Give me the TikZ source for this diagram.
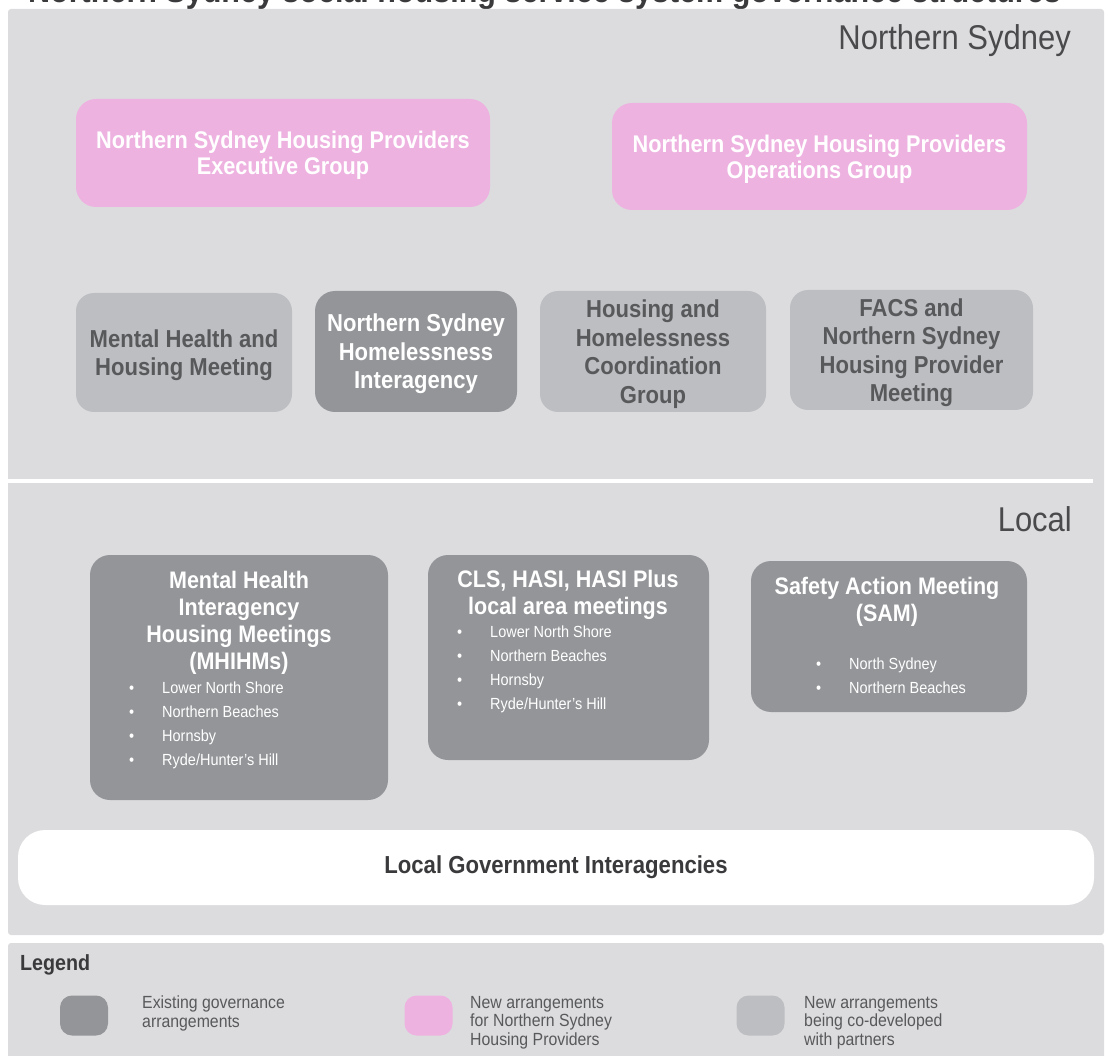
\documentclass[tikz,border=0pt]{standalone}
\usepackage{fontspec}
\setmainfont{Liberation Sans}[FakeStretch=0.9]
\usetikzlibrary{positioning}

\definecolor{panelgray}{HTML}{DCDCDE}
\definecolor{pinkfill}{HTML}{EEB2E1}
\definecolor{darkfill}{HTML}{939598}
\definecolor{lightfill}{HTML}{BDBEC1}
\definecolor{boxtext}{HTML}{58595B}
\definecolor{headtext}{HTML}{4A4A4C}
\definecolor{titletext}{HTML}{3A3A3C}

\newcommand{\blt}{\makebox[33pt][l]{\textbullet}}

\tikzset{
  pinkbox/.style={rounded corners=20pt, fill=pinkfill, text=white, inner sep=0pt,
    align=center, text depth=0pt, font=\fontsize{24.1}{26}\selectfont\bfseries},
  lightbox/.style={rounded corners=18pt, fill=lightfill, text=boxtext, inner sep=0pt,
    align=center, text depth=0pt, font=\fontsize{24.5}{28.5}\selectfont\bfseries},
  darkbox/.style={rounded corners=20pt, fill=darkfill, text=white, inner sep=0pt,
    align=center, text depth=0pt, font=\fontsize{24.5}{28.5}\selectfont\bfseries},
  boxhead/.style={text=white, inner sep=0pt, align=center, anchor=north,
    font=\fontsize{23.9}{27}\selectfont\bfseries},
  bullets/.style={text=white, inner sep=0pt, align=left, anchor=north west,
    font=\fontsize{16.1}{24}\selectfont},
  swatch/.style={rounded corners=12pt, minimum width=48pt, minimum height=40pt, inner sep=0pt},
  legendtext/.style={text=boxtext, inner sep=0pt, align=left, anchor=north west,
    font=\fontsize{17.6}{18.5}\selectfont},
  level/.style={text=headtext, inner sep=0pt, anchor=base east, font=\fontsize{34.4}{38}\selectfont}
}

\begin{document}
\begin{tikzpicture}[x=1pt, y=-1pt]
    \useasboundingbox (0,0) rectangle (1109,1056);
    % heading, mostly cut off by the page
    \node[text=titletext, inner sep=0pt, anchor=base west,
          font=\fontsize{33.9}{38}\selectfont\bfseries] (title) at (28,3)
          {Northern Sydney social housing service system governance structures};

    % background panels
    \fill[panelgray, rounded corners=3pt] (8,9) rectangle (1104,935);
    \fill[panelgray, rounded corners=3pt] (8,943) rectangle (1104,1070);
    \coordinate (sepL) at (8,481);
    \coordinate (sepR) at (1093,481);
    \draw[white, line width=4pt] (sepL) -- (sepR);

    \node[level] (nsLabel) at (1071,50) {Northern Sydney};
    \node[level] (localLabel) at (1072,531) {Local};

    % Northern Sydney level
    \begin{scope}[every node/.style={pinkbox}]
      \node[minimum width=414pt, minimum height=108pt] (exec) at (283,153)
        {Northern Sydney Housing Providers\\Executive Group};
      \node[minimum width=415pt, minimum height=107pt] (ops) at (819.5,156.5)
        {Northern Sydney Housing Providers\\Operations Group};
    \end{scope}
    \node[lightbox, minimum width=216pt, minimum height=119pt] (mhhm) at (184,352.5)
      {Mental Health and\\Housing Meeting};
    \node[darkbox, minimum width=202pt, minimum height=121pt] (nshi) at (416,351.5)
      {Northern Sydney\\Homelessness\\Interagency};
    \node[lightbox, minimum width=226pt, minimum height=121pt] (hhcg) at (653,351.5)
      {Housing and\\Homelessness\\Coordination\\Group};
    \node[lightbox, minimum width=243pt, minimum height=120pt] (facs) at (911.5,350)
      {FACS and\\Northern Sydney\\Housing Provider\\Meeting};

    % Local level
    \node[darkbox, minimum width=298pt, minimum height=245pt] (mhihm) at (239,677.5) {};
    \node[boxhead] (mhihmHead) at (239,571)
      {Mental Health\\Interagency\\Housing Meetings\\(MHIHMs)};
    \node[bullets] (mhihmList) at (129,682)
      {\blt Lower North Shore\\\blt Northern Beaches\\\blt Hornsby\\\blt Ryde/Hunter's Hill};

    \node[darkbox, minimum width=281pt, minimum height=205pt] (cls) at (568.5,657.5) {};
    \node[boxhead] (clsHead) at (568,570)
      {CLS, HASI, HASI Plus\\local area meetings};
    \node[bullets] (clsList) at (457,626)
      {\blt Lower North Shore\\\blt Northern Beaches\\\blt Hornsby\\\blt Ryde/Hunter's Hill};

    \node[darkbox, minimum width=276pt, minimum height=151pt] (sam) at (889,636.5) {};
    \node[boxhead] (samHead) at (887,577)
      {Safety Action Meeting\\(SAM)};
    \node[bullets] (samList) at (816,658)
      {\blt North Sydney\\\blt Northern Beaches};

    \node[rounded corners=27pt, fill=white, text=titletext, inner sep=0pt,
          minimum width=1076pt, minimum height=75pt,
          font=\fontsize{24.6}{28}\selectfont\bfseries] (lgi) at (556,867.5)
      {Local Government Interagencies};

    % legend
    \node[text=titletext, inner sep=0pt, anchor=west,
          font=\fontsize{21.9}{24}\selectfont\bfseries] (legend) at (20,965) {Legend};
    \node[swatch, fill=darkfill] (keyDark) at (84,1015.5) {};
    \node[legendtext] (keyDarkText) at (142,996)
      {Existing governance\\arrangements};
    \node[swatch, fill=pinkfill] (keyPink) at (428.5,1015.5) {};
    \node[legendtext] (keyPinkText) at (470,996)
      {New arrangements\\for Northern Sydney\\Housing Providers};
    \node[swatch, fill=lightfill] (keyLight) at (760.5,1015.5) {};
    \node[legendtext] (keyLightText) at (804,996)
      {New arrangements\\being co-developed\\with partners};
\end{tikzpicture}
\end{document}
